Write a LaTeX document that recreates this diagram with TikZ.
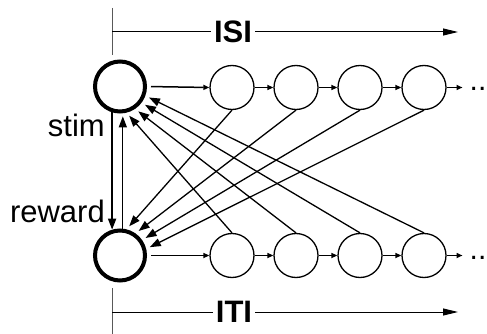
\documentclass[tikz,border=0pt]{standalone}
\usepackage{fontspec}
\setmainfont{Liberation Sans}
\usetikzlibrary{arrows.meta,calc}
\begin{document}
\begin{tikzpicture}[x=1pt,y=-1pt,
  big/.style={circle,draw,line width=4pt,minimum size=50pt,inner sep=0pt},
  small/.style={circle,draw,line width=1.3pt,minimum size=44pt,inner sep=0pt},
  chain/.style={line width=1.5pt,-{Triangle[length=6pt,width=5pt]}},
  diag/.style={line width=1.3pt,-{Triangle[length=11pt,width=8pt]},shorten >=4pt},
  axis/.style={line width=1pt,-{Triangle[length=15pt,width=7pt]}},
  tickline/.style={line width=1pt,black!65},
  lbl/.style={font=\fontsize{31}{31}\selectfont,inner sep=0pt},
  dotsty/.style={font=\fontsize{30}{30}\selectfont,inner sep=0pt},
  ttl/.style={font=\fontsize{31}{31}\selectfont\bfseries,inner sep=3pt}
]
\useasboundingbox (0,0) rectangle (487,334);
% big nodes
\node[big] (S) at (120,86.5) {};
\node[big] (R) at (120,255.5) {};
% small nodes
\foreach \i/\x in {1/232,2/296,3/360,4/424}{
  \node[small] (a\i) at (\x,87.5) {};
  \node[small] (b\i) at (\x,255.5) {};
}
% chains
\draw[chain,shorten <=4pt] (S.east) -- (a1.west);
\draw[chain,shorten <=4pt] (R.east) -- (b1.west);
\foreach \i/\j in {1/2,2/3,3/4}{
  \draw[chain] (a\i.east) -- (a\j.west);
  \draw[chain] (b\i.east) -- (b\j.west);
}
\node[dotsty,anchor=base west] (dA) at (469.5,91) {..};
\node[dotsty,anchor=base west] (dB) at (469.5,259) {..};
\draw[chain,shorten >=7pt] (a4.east) -- (a4.east -| dA.west);
\draw[chain,shorten >=7pt] (b4.east) -- (b4.east -| dB.west);
% vertical arrows
\draw[line width=1.7pt,-{Triangle[length=11pt,width=8pt]}] (S.-107) -- (R.107);
\draw[line width=1.3pt,-{Triangle[length=11pt,width=8pt]},shorten >=3pt] (R.84) -- (S.-84);
% diagonals
\foreach \i/\a in {1/-76,2/-56,3/-37,4/-20}
  \draw[diag] (b\i.north) -- (S.\a);
\foreach \i/\a in {1/76,2/55,3/35,4/14}
  \draw[diag] (a\i.south) -- (R.\a);
% labels
\node[lbl,anchor=base east] (stim) at (105,137) {stim};
\node[lbl,anchor=base east] (reward) at (105,222) {reward};
% ISI axis
\node[ttl] (isi) at (233,32) {ISI};
\coordinate (isiL) at (112,32);
\coordinate (isiR) at (458,32);
\coordinate (isiT) at (112,8);
\coordinate (isiB) at (112,55);
\draw[tickline] (isiT) -- (isiB);
\draw[line width=1pt] (isiL) -- (isi.west);
\draw[axis] (isi.east) -- (isiR);
% ITI axis
\node[ttl] (iti) at (234,312) {ITI};
\coordinate (itiL) at (112,312);
\coordinate (itiR) at (458,312);
\coordinate (itiT) at (112,288);
\coordinate (itiB) at (112,334);
\draw[tickline] (itiT) -- (itiB);
\draw[line width=1pt] (itiL) -- (iti.west);
\draw[axis] (iti.east) -- (itiR);
\end{tikzpicture}
\end{document}
